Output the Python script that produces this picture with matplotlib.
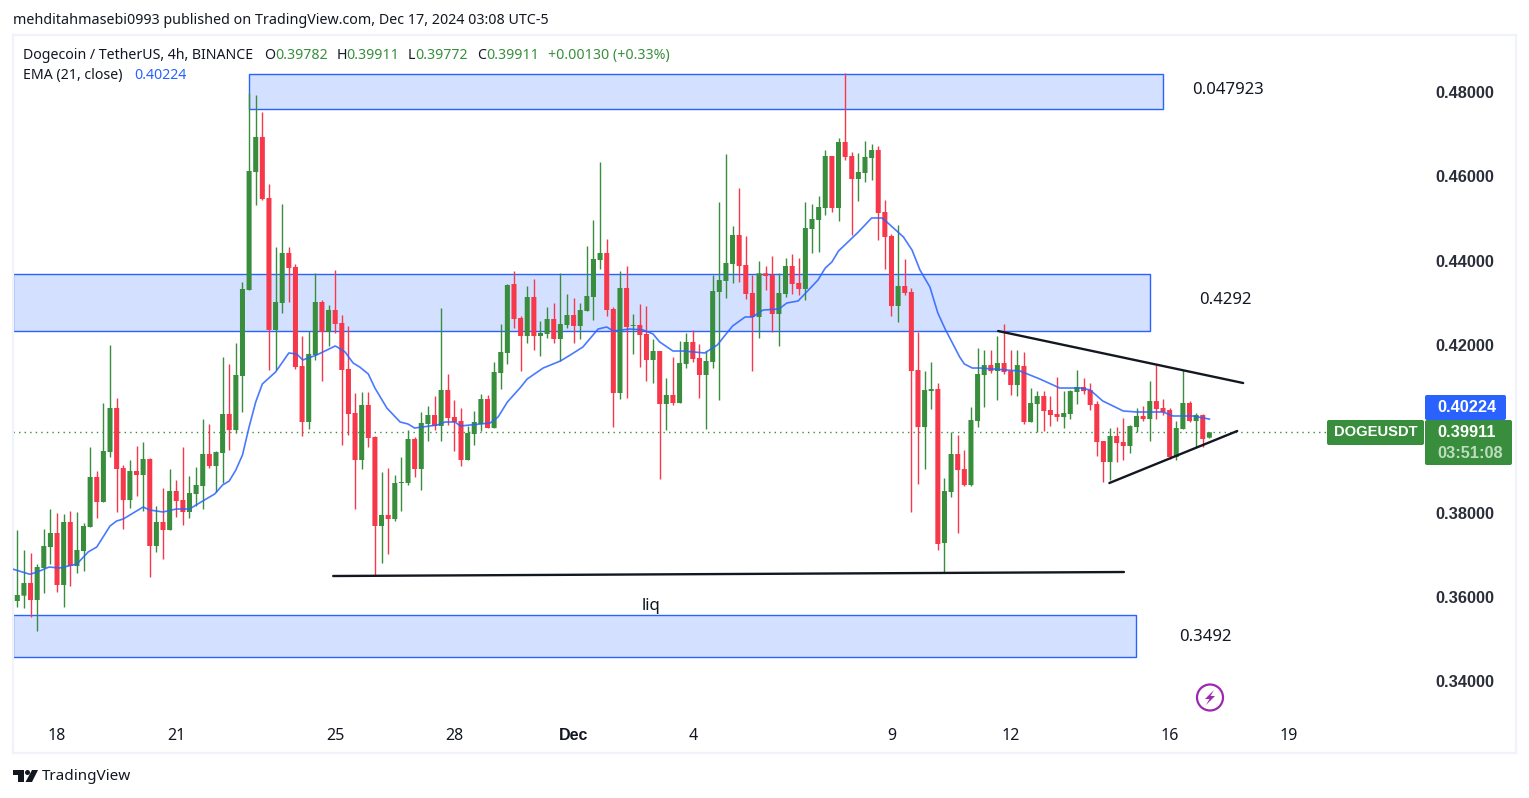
# DOGE/USDT 4h candles with EMA(21), supply/demand boxes and trend lines

import matplotlib
matplotlib.use("Agg")
import matplotlib.pyplot as plt
from matplotlib.patches import Rectangle, FancyBboxPatch, Circle, Polygon
from matplotlib.transforms import Affine2D

plt.rcParams["font.family"] = ["Noto Sans", "DejaVu Sans"]

GREEN = "#388E3C"
RED = "#F7374A"
BLUE = "#2962FF"
BOX_FILL = "#D4E0FF"
DARK = "#131722"
FRAME = "#F0F3FA"
BOLD_FONT = ["Liberation Sans", "DejaVu Sans"]

opens = [
    .35893, .3602, .36321, .35917, .36678, .37178, .37512, .36274, .37774, .36726,
    .37083, .37655, .38845, .3825, .3944, .40488, .39059, .38297, .38988, .38893,
    .39274, .37202, .37774, .37583, .38512, .38297, .38012, .3844, .38631, .39393,
    .39107, .39417, .40345, .39964, .4125, .43298, .46107, .46941, .45488, .42346,
    .42988, .44179, .43846, .41488, .40155, .4175, .43012, .42298, .42822, .42512,
    .41417, .40369, .3925, .4056, .39798, .37679, .37941, .37845, .38702, .38702,
    .3975, .39036, .40107, .40321, .4006, .40917, .40274, .40179, .3925, .39869,
    .40107, .40702, .40012, .41321, .41798, .4344, .42631, .42202, .43131, .42202,
    .4225, .42607, .42131, .42464, .42702, .42441, .42798, .43131, .44012, .44179,
    .42845, .40845, .43345, .42441, .42464, .4225, .41631, .41845, .40584, .40798,
    .40607, .41536, .4206, .41679, .41274, .41584, .4325, .43512, .43917, .44607,
    .43893, .43226, .42655, .43695, .43655, .42726, .43203, .43869, .43465, .43322,
    .4475, .44965, .4525, .46488, .4525, .46822, .46488, .45941, .46084, .46441,
    .46631, .45155, .44584, .42917, .43393, .4325, .41392, .40035, .40892, .4094,
    .37273, .38488, .39392, .39035, .38654, .40178, .41273, .41511, .41369, .41559,
    .41369, .41035, .41488, .40154, .40583, .40773, .4044, .40345, .40273, .40345,
    .40869, .40988, .40916, .40583, .39702, .39202, .39821, .39678, .39583, .40035,
    .40297, .40226, .40654, .40488, .4044, .39321, .39988, .40607, .40178, .40321,
    .39782,
]
highs = [
    .37583, .37107, .37028, .36774, .37607, .38083, .37988, .37964, .38036, .38012,
    .3775, .39559, .38988, .40607, .41988, .40726, .39131, .3925, .39583, .39678,
    .39297, .38155, .38583, .39036, .38774, .39559, .38869, .39083, .40226, .40107,
    .39464, .41702, .41536, .42036, .43488, .4798, .47941, .47536, .45822, .44322,
    .45346, .44322, .43917, .42203, .42322, .43703, .4306, .42941, .43774, .42702,
    .42441, .40845, .40869, .40869, .39821, .38964, .3906, .38893, .39321, .39964,
    .39798, .40393, .40536, .40774, .42869, .41298, .40679, .40488, .4006, .40417,
    .40821, .40798, .41583, .42488, .43441, .4375, .42679, .43393, .4356, .4256,
    .42893, .42988, .43702, .43202, .43107, .42988, .44345, .44964, .46345, .44512,
    .42893, .4375, .43869, .42726, .42964, .42917, .42131, .41845, .41203, .41703,
    .42084, .42274, .42346, .42012, .41846, .43655, .45393, .46536, .44822, .45726,
    .44584, .43655, .43988, .43869, .44107, .43703, .4406, .44155, .4406, .45393,
    .45346, .45536, .46631, .46488, .46917, .48457, .46584, .4656, .46846, .46774,
    .46726, .45441, .44631, .44846, .44036, .43345, .42297, .41369, .41583, .41083,
    .38821, .39916, .39845, .39488, .40511, .41916, .41869, .41869, .42202, .42488,
    .41869, .41869, .41821, .40964, .40892, .40892, .40773, .41226, .40892, .40916,
    .41392, .41202, .41083, .40654, .39702, .40011, .40035, .4025, .40083, .40488,
    .40535, .4113, .41511, .40702, .40488, .40178, .41392, .40654, .40369, .40345,
    .39911,
]
lows = [
    .35758, .35734, .3552, .35186, .36091, .36774, .36107, .35758, .3625, .36567,
    .36615, .37655, .37869, .3825, .39321, .38012, .37607, .38107, .38393, .38036,
    .36464, .37059, .36893, .37583, .37893, .37702, .37869, .38155, .38083, .39059,
    .38488, .38702, .39488, .39893, .40393, .43298, .45322, .45441, .41393, .41393,
    .4275, .43012, .41417, .39821, .39988, .41631, .41131, .41965, .42274, .39607,
    .39845, .38083, .39036, .3956, .36512, .36798, .37012, .37798, .38036, .38655,
    .38845, .38536, .39702, .39964, .39702, .40083, .39464, .39107, .3925, .39607,
    .39941, .40012, .40012, .40941, .41536, .42393, .41369, .42036, .41869, .41726,
    .42155, .42036, .41607, .42393, .42036, .42131, .42798, .42583, .43798, .42679,
    .40036, .40702, .40726, .41774, .41464, .41131, .41083, .38798, .39965, .4056,
    .40607, .41441, .41584, .40726, .39988, .41441, .40679, .43107, .43465, .43488,
    .43084, .41369, .42155, .43298, .42298, .41965, .43131, .43203, .43179, .4306,
    .44179, .44203, .45084, .45155, .44941, .46393, .44607, .45417, .45869, .45917,
    .44488, .43798, .42679, .42536, .43179, .38011, .38678, .39035, .40464, .37107,
    .36551, .38369, .37511, .3863, .3863, .40035, .40511, .41321, .40678, .41297,
    .40797, .40773, .40107, .40154, .39916, .3994, .40059, .40178, .40011, .40226,
    .40583, .40821, .4044, .39345, .38726, .38773, .39202, .3925, .39416, .39916,
    .40178, .39702, .40226, .40321, .39273, .3925, .39988, .40154, .39559, .39559,
    .39772,
]
closes = [
    .36036, .36321, .35917, .36702, .37202, .37512, .36274, .37774, .36726, .37107,
    .37678, .38845, .3825, .39464, .40488, .39036, .38297, .38988, .38893, .39274,
    .37202, .37774, .37583, .38512, .38274, .38012, .38464, .38655, .39393, .39107,
    .3944, .40345, .39964, .41274, .43322, .46131, .46941, .45465, .42346, .43012,
    .44179, .43822, .41464, .40155, .41774, .43012, .42298, .42822, .42488, .41393,
    .40345, .3925, .4056, .39774, .37679, .37941, .37845, .38702, .38726, .3975,
    .39036, .40131, .40321, .4006, .40917, .4025, .40155, .3925, .39893, .40155,
    .40702, .40012, .41345, .41821, .43417, .42607, .42202, .43131, .42202, .42274,
    .42607, .42131, .42488, .42702, .42441, .42821, .43155, .44036, .44179, .42821,
    .40845, .43345, .42417, .42464, .42226, .41631, .41845, .40583, .40798, .40607,
    .4156, .4206, .41655, .41274, .41607, .43274, .43536, .43941, .44607, .43869,
    .43203, .42655, .43695, .43631, .42726, .43226, .43869, .43441, .43322, .44774,
    .44988, .45274, .46488, .4525, .46822, .46465, .45941, .46107, .46465, .46631,
    .45131, .4456, .42917, .43393, .43226, .41369, .40035, .40916, .4094, .3725,
    .38511, .39392, .39011, .38654, .40202, .41297, .41511, .41369, .41559, .41345,
    .41035, .41511, .40154, .40607, .40773, .40416, .40321, .40273, .40369, .40892,
    .40988, .40892, .40559, .39678, .39202, .39821, .39654, .39583, .40059, .40297,
    .40226, .40654, .40464, .40392, .39321, .40011, .40607, .40178, .40321, .3975,
    .39911,
]

ema_idx = [
    -0.6, 1.9, 3, 4.8, 6.4, 9, 10.7, 12, 14, 15, 16, 19, 20, 22, 24, 26, 28, 29.8, 31, 32,
    33, 34, 35, 36, 37, 39, 41, 42.2, 43.1, 45.2, 48, 48.3, 49.5, 50.7, 51.7, 53, 54, 55.8, 57.8, 59,
    60, 63.4, 64.6, 66.1, 66.9, 71.4, 72.6, 74, 75.9, 77, 79.4, 82, 83.5, 85.4, 87.7, 89, 90, 92.5, 94.5, 96,
    97, 99, 100.5, 103.8, 105.7, 106.9, 108, 109.9, 111, 112.6, 115, 116.2, 117.9, 120.9, 122, 123, 124, 127, 129, 130.6,
    131.8, 133.8, 135.1, 136.3, 137.8, 139, 140.1, 142.3, 143, 144.2, 145.4, 151.4, 154.4, 157.4, 160.5, 162, 163.9, 167, 169, 173,
    174.5, 177.5, 180,
]
ema_val = [
    .36648, .36529, .36583, .36702, .36679, .36774, .3706, .37179, .37679, .37798, .37845, .38131, .3806, .38012, .38083, .38083, .38274, .3844, .38655, .3875,
    .39012, .39369, .40036, .40631, .4106, .41345, .41798, .41774, .41631, .4175, .41964, .4194, .41821, .4156, .41464, .41298, .40964, .40488, .40155, .40107,
    .40012, .40083, .40155, .40155, .4006, .40131, .40274, .40631, .40964, .41179, .4144, .41607, .4175, .4194, .42369, .42417, .42321, .42369, .42345, .4225,
    .4206, .41845, .41845, .41798, .41988, .42226, .4244, .42655, .42655, .42821, .42845, .42988, .43036, .43536, .43821, .43964, .44226, .44679, .45012, .45012,
    .44845, .4456, .4425, .43774, .43369, .4275, .42369, .41702, .41536, .4144, .4144, .41369, .41179, .40964, .40964, .40917, .40655, .40417, .40393, .40393,
    .40298, .40298, .40224,
]

# supply / demand boxes: left idx, right idx, bottom price, top price
box_left = [35.0, -0.65, -0.65]
box_right = [173.0, 171.1, 168.9]
box_low = [.47619, .42333, .34571]
box_high = [.48452, .4369, .35571]

# trend lines: idx0, price0, idx1, price1
line_a = [148.1, .42321, 185.1, .41083]
line_b = [164.9, .38702, 184.2, .3994]
line_c = [47.7, .36488, 167.1, .36583]

y_ticks = [.34, .36, .38, .40, .42, .44, .46, .48]
y_tick_labels = ["0.34000", "0.36000", "0.38000", "", "0.42000", "0.44000", "0.46000", "0.48000"]
x_ticks = [6, 24, 48, 66, 84, 102, 132, 150, 174, 192]
x_tick_labels = ["18", "21", "25", "28", "Dec", "4", "9", "12", "16", "19"]

last_price = .39911


def main():
    fig = plt.figure(figsize=(15.29, 7.98), dpi=100, facecolor="white")
    ax = fig.add_axes([13 / 1529, 1 - 753 / 798, 1503 / 1529, 718 / 798])
    ax.set_xlim(-0.649, 226.3)
    ax.set_ylim(.32274, .49369)

    # page pixels, y going down
    px = Affine2D().scale(1 / 1529, -1 / 798).translate(0, 1) + fig.transFigure

    for lo, hi, l, r in zip(box_low, box_high, box_left, box_right):
        ax.add_patch(Rectangle((l, lo), r - l, hi - lo, fc=BOX_FILL, ec=BLUE, lw=1, zorder=1))

    ax.hlines(last_price, -0.649, 198, color=GREEN, lw=1, ls=(0, (1, 3)), zorder=2)

    xs = list(range(len(opens)))
    colors = [GREEN if c >= o else RED for o, c in zip(opens, closes)]
    ax.vlines(xs, lows, highs, colors=colors, lw=1, zorder=3)
    bottoms = [min(o, c) for o, c in zip(opens, closes)]
    heights = [abs(o - c) for o, c in zip(opens, closes)]
    bars = ax.bar(xs, heights, width=0.76, bottom=bottoms, color=colors, lw=0, zorder=4)
    for b in bars:
        b.set_snap(False)

    ax.plot(ema_idx, ema_val, color=BLUE, lw=1.2, alpha=.85, zorder=5)

    for ln in (line_a, line_b, line_c):
        ax.plot([ln[0], ln[2]], [ln[1], ln[3]], color=DARK, lw=1.7, solid_capstyle="round", zorder=6)

    for s in ax.spines.values():
        s.set_color(FRAME)
        s.set_linewidth(1.6)

    ax.yaxis.tick_right()
    ax.set_yticks(y_ticks)
    ax.set_yticklabels(y_tick_labels, fontsize=11.8, color="#2A2E39", fontweight="bold", family=BOLD_FONT)
    ax.tick_params(axis="y", length=0, pad=-58)
    ax.set_xticks(x_ticks)
    ax.set_xticklabels(x_tick_labels, fontsize=11.5, color=DARK)
    ax.tick_params(axis="x", length=0, pad=-18)
    ax.get_xticklabels()[4].set_fontweight("bold")
    ax.get_xticklabels()[4].set_family(BOLD_FONT)

    def label(x, y, s, color=DARK, size=10.2, **kw):
        fig.text(x, y, s, transform=px, color=color, fontsize=size, va="center", **kw)

    # drawing texts
    label(1192, 90, "0.047923", size=12)
    label(1199, 300, "0.4292", size=12)
    label(1179, 637, "0.3492", size=12)
    label(642, 606, "liq", size=12)

    # header and legend
    label(13, 21, "mehditahmasebi0993 published on TradingView.com, Dec 17, 2024 03:08 UTC-5", size=10.26)
    label(23, 55.5, "Dogecoin / TetherUS, 4h, BINANCE")
    label(23, 75.5, "EMA (21, close)")
    label(134, 75.5, "0.40224", color=BLUE)
    for x, s in [(264, "O"), (337, "H"), (408, "L"), (477, "C")]:
        label(x, 55.5, s)
    for x, s in [(275, "0.39782"), (346, "0.39911"), (415, "0.39772"), (486, "0.39911"),
                 (548, "+0.00130 (+0.33%)")]:
        label(x, 55.5, s, color=GREEN)

    # price tags
    def tag(x0, y0, x1, y1, color):
        fig.add_artist(FancyBboxPatch((x0 + 1, y0 + 1), x1 - x0 - 2, y1 - y0 - 2,
                                      boxstyle="round,pad=1,rounding_size=2",
                                      fc=color, ec="none", transform=px))

    tag(1425, 395, 1506, 420, BLUE)
    tag(1327, 420, 1424, 445, GREEN)
    tag(1425, 420, 1512, 465, GREEN)
    label(1437, 407.5, "0.40224", color="white", size=11.8, fontweight="bold", family=BOLD_FONT)
    label(1437, 432.5, "0.39911", color="white", size=11.8, fontweight="bold", family=BOLD_FONT)
    label(1437, 453.5, "03:51:08", color="#BFDCC1", size=11.8, fontweight="bold", family=BOLD_FONT)
    label(1334, 432.5, "DOGEUSDT", color="white", size=10.6, fontweight="bold", family=BOLD_FONT)

    # lightning badge
    fig.add_artist(Circle((1210, 697.5), 13, fc="white", ec="#9C27B0", lw=1.6, transform=px))
    fig.add_artist(Polygon([(1214, 690), (1205, 699), (1209.5, 699), (1206, 705), (1215, 696),
                            (1210.5, 696)], closed=True, fc="#9C27B0", ec="none", transform=px))

    # footer logo
    fig.add_artist(Polygon([(13, 770), (24, 770), (24, 782), (18, 782), (18, 775), (13, 775)],
                           closed=True, fc=DARK, ec="none", transform=px))
    fig.add_artist(Circle((27.5, 772.5), 2.5, fc=DARK, ec="none", transform=px))
    fig.add_artist(Polygon([(32, 770), (38, 770), (32, 782), (25.5, 782)],
                           closed=True, fc=DARK, ec="none", transform=px))
    label(42, 777, "TradingView", size=11)

    plt.savefig("out.png", dpi=100)


main()
